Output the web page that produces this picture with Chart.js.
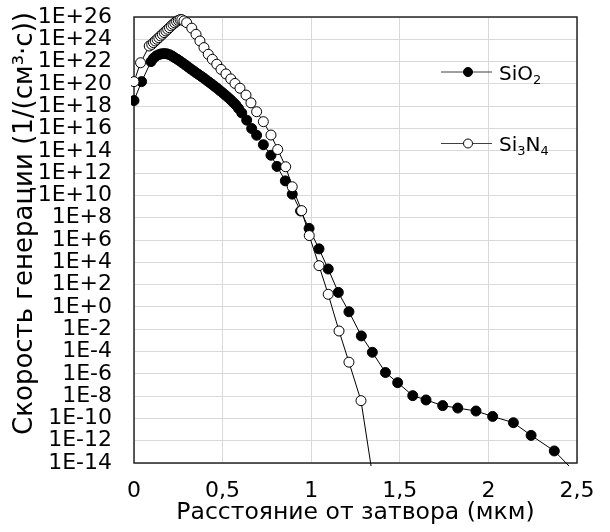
<!DOCTYPE html>
<html>
<head>
<meta charset="utf-8">
<script src="https://cdn.jsdelivr.net/npm/chart.js@4.4.0/dist/chart.umd.min.js"></script>
<style>
html, body { margin: 0; padding: 0; background: #fff; }
</style>
</head>
<body>
<canvas id="myChart" width="610" height="532"></canvas>
<script>
// SiO2 (filled markers)
var sio2X = [0, 0.043, 0.096, 0.11, 0.125, 0.14, 0.155, 0.17, 0.185, 0.2, 0.215, 0.23, 0.245, 0.26, 0.275, 0.29,
    0.305, 0.32, 0.335, 0.35, 0.365, 0.38, 0.395, 0.41, 0.425, 0.44, 0.455, 0.47, 0.485, 0.5, 0.515, 0.53,
    0.545, 0.56, 0.575, 0.59, 0.608, 0.636, 0.664, 0.692, 0.73, 0.773, 0.807, 0.854, 0.893, 0.94, 0.988,
    1.044, 1.096, 1.153, 1.213, 1.283, 1.345, 1.419, 1.488, 1.573, 1.648, 1.742, 1.827, 1.93, 2.024, 2.141,
    2.241, 2.372, 2.5];
var sio2Y = [3.2e18, 1.6e20, 1.0e22, 2.0e22, 3.2e22, 4.2e22, 5.0e22, 5.2e22, 5.0e22, 4.2e22, 3.2e22, 2.2e22, 1.6e22, 1.1e22, 7.4e21, 5.0e21,
    3.3e21, 2.2e21, 1.5e21, 1.0e21, 6.9e20, 4.7e20, 3.2e20, 2.1e20, 1.4e20, 9.3e19, 6.0e19, 4.0e19, 2.5e19, 1.6e19, 1.0e19, 6.3e18,
    3.8e18, 2.2e18, 1.3e18, 6.3e17, 2.5e17, 5.6e16, 1.0e16, 2.5e15, 3.5e14, 4.0e13, 4.0e12, 2.0e11, 1.3e10, 4.0e8, 1.1e7,
    1.6e5, 2.5e3, 20, 0.37, 2.5e-3, 8.5e-5, 1.3e-6, 1.6e-7, 1.1e-8, 4.5e-9, 1.4e-9, 8.5e-10, 4.6e-10, 1.5e-10, 4.1e-11,
    3.0e-12, 1.2e-13, 1e-15];

// Si3N4 (hollow markers)
var si3n4X = [0, 0.037, 0.086, 0.1, 0.11, 0.12, 0.13, 0.14, 0.15, 0.16, 0.17, 0.18, 0.19, 0.2, 0.21, 0.22, 0.23,
    0.24, 0.25, 0.26, 0.27, 0.282, 0.297, 0.326, 0.35, 0.372, 0.395, 0.419, 0.442, 0.467, 0.491, 0.519, 0.546,
    0.57, 0.598, 0.632, 0.66, 0.692, 0.73, 0.773, 0.811, 0.856, 0.893, 0.946, 0.989, 1.044, 1.096, 1.157,
    1.213, 1.281, 1.345];
var si3n4Y = [1.6e20, 7.9e21, 2.5e23, 3.5e23, 5.0e23, 7.1e23, 1.0e24, 1.4e24, 2.0e24, 2.8e24, 4.0e24, 5.6e24, 7.9e24, 1.1e25, 1.6e25, 2.2e25, 3.0e25,
    4.0e25, 5.0e25, 5.8e25, 5.8e25, 4.5e25, 3.1e25, 1.0e25, 2.8e24, 7.1e23, 1.8e23, 4.5e22, 1.6e22, 5.8e21, 2.0e21, 7.8e20, 2.8e20,
    1.1e20, 4.1e19, 1.0e19, 2.0e18, 3.2e17, 4.1e16, 2.6e15, 1.3e14, 3.7e12, 6.0e10, 4.3e8, 2.5e6, 5.0e3, 13.5, 6.9e-3,
    1.1e-5, 3.9e-9, 1e-15];

var seriesNames = ["SiO2", "Si3N4"];

var xTickValues = [0, 0.5, 1, 1.5, 2, 2.5];
var xTickLabels = ["0", "0,5", "1", "1,5", "2", "2,5"];
var yTickValues = [1e-14, 1e-12, 1e-10, 1e-8, 1e-6, 1e-4, 1e-2, 1e0, 1e2, 1e4, 1e6, 1e8, 1e10,
    1e12, 1e14, 1e16, 1e18, 1e20, 1e22, 1e24, 1e26];
var yTickLabels = ["1E-14", "1E-12", "1E-10", "1E-8", "1E-6", "1E-4", "1E-2", "1E+0", "1E+2", "1E+4", "1E+6",
    "1E+8", "1E+10", "1E+12", "1E+14", "1E+16", "1E+18", "1E+20", "1E+22", "1E+24", "1E+26"];

var xTitle = "Расстояние от затвора (мкм)";
var yTitle = "    Скорость генерации (1/(см³·с))";

var fontName = "'DejaVu Sans', sans-serif";

function toPoints(xs, ys) {
    return xs.map(function (x, i) { return { x: x, y: ys[i] }; });
}

// plot frame, drawn under the markers
var framePlugin = {
    id: "frame",
    beforeDatasetsDraw: function (chart) {
        var a = chart.chartArea, c = chart.ctx;
        c.save();
        c.strokeStyle = "#262626";
        c.lineWidth = 1.5;
        c.strokeRect(a.left, a.top, a.right - a.left, a.bottom - a.top);
        c.restore();
    }
};

// legend inside the plot, digits as subscripts
var legendPlugin = {
    id: "innerLegend",
    afterDraw: function (chart) {
        var c = chart.ctx;
        var rows = [72, 143.5];
        chart.data.datasets.forEach(function (ds, i) {
            var name = ds.label;
            var y = rows[name === seriesNames[0] ? 0 : 1];
            c.save();
            c.strokeStyle = "#404040";
            c.lineWidth = 1;
            c.beginPath();
            c.moveTo(441, y);
            c.lineTo(492, y);
            c.stroke();
            c.beginPath();
            c.arc(468, y, 4.5, 0, Math.PI * 2);
            c.fillStyle = ds.pointBackgroundColor;
            c.fill();
            c.strokeStyle = "#000";
            c.stroke();
            var x = 499;
            c.fillStyle = "#000";
            c.textBaseline = "alphabetic";
            c.textAlign = "left";
            name.split(/(\d)/).forEach(function (part) {
                if (!part) return;
                if (/\d/.test(part)) {
                    c.font = "13px " + fontName;
                    c.fillText(part, x, y + 11.5);
                } else {
                    c.font = "20px " + fontName;
                    c.fillText(part, x, y + 7.5);
                }
                x += c.measureText(part).width;
            });
            c.restore();
        });
    }
};

function noEdgePadding(scale) {
    scale.paddingTop = 0;
    scale.paddingBottom = 0;
    scale.paddingLeft = 0;
    scale.paddingRight = 0;
}

var ctx = document.getElementById("myChart").getContext("2d");

var myChart = new Chart(ctx, {
    type: "scatter",
    data: {
        datasets: [
            {
                label: seriesNames[0],
                data: toPoints(sio2X, sio2Y),
                showLine: true,
                borderColor: "#000",
                borderWidth: 1,
                pointRadius: 5,
                pointBorderWidth: 1,
                pointBackgroundColor: "#000",
                pointBorderColor: "#000",
                clip: 3,
                order: 2
            },
            {
                label: seriesNames[1],
                data: toPoints(si3n4X, si3n4Y),
                showLine: true,
                borderColor: "#000",
                borderWidth: 1,
                pointRadius: 5,
                pointBorderWidth: 1,
                pointBackgroundColor: "#fff",
                pointBorderColor: "#000",
                clip: 3,
                order: 1
            }
        ]
    },
    options: {
        responsive: false,
        animation: false,
        devicePixelRatio: 1,
        layout: { padding: { top: 17, right: 33, left: 0, bottom: 0 } },
        plugins: {
            legend: { display: false },
            tooltip: { enabled: false }
        },
        scales: {
            x: {
                type: "linear",
                min: 0,
                max: 2.5,
                afterBuildTicks: function (scale) {
                    scale.ticks = xTickValues.map(function (v) { return { value: v }; });
                },
                afterFit: function (scale) {
                    scale.height = 69;
                    noEdgePadding(scale);
                },
                grid: { color: "#d9d9d9", drawTicks: false },
                border: { display: false },
                ticks: {
                    padding: 15,
                    color: "#000",
                    autoSkip: false,
                    maxRotation: 0,
                    font: { family: fontName, size: 22 },
                    callback: function (v, i) { return xTickLabels[i]; }
                },
                title: {
                    display: true,
                    text: xTitle,
                    color: "#000",
                    font: { family: fontName, size: 23.5 },
                    padding: { top: 0, bottom: 5 }
                }
            },
            y: {
                type: "logarithmic",
                min: 1e-14,
                max: 1e26,
                afterBuildTicks: function (scale) {
                    scale.ticks = yTickValues.map(function (v) { return { value: v }; });
                },
                afterFit: function (scale) {
                    scale.width = 134;
                    noEdgePadding(scale);
                },
                grid: { color: "#d9d9d9", drawTicks: false },
                border: { display: false },
                ticks: {
                    padding: 22,
                    color: "#000",
                    autoSkip: false,
                    font: { family: fontName, size: 22 },
                    callback: function (v, i) { return yTickLabels[i]; }
                },
                title: {
                    display: true,
                    text: yTitle,
                    color: "#000",
                    font: { family: fontName, size: 26 },
                    padding: { top: 10, bottom: 0 }
                }
            }
        }
    },
    plugins: [framePlugin, legendPlugin]
});
</script>
</body>
</html>
